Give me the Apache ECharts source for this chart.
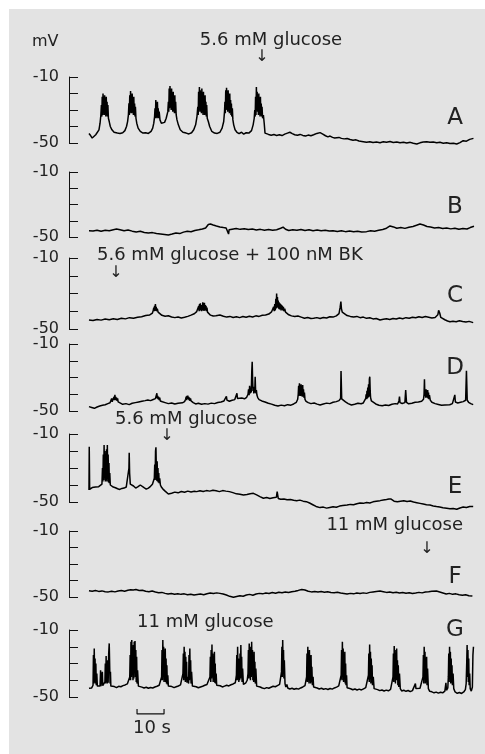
<!DOCTYPE html>
<html>
<head>
<meta charset="utf-8">
<script src="https://cdn.jsdelivr.net/npm/echarts@6/dist/echarts.min.js"></script>
<style>
html, body { margin: 0; padding: 0; background: #e3e3e3; }
#main { width: 485px; height: 754px; }
</style>
</head>
<body>
<div id="main"></div>
<script>
var chart = echarts.init(document.getElementById('main'));

// time in s, membrane potential in mV
var traceA = [[0,-44.2],[0.6,-45.5],[1.2,-47],[1.8,-46],[2.5,-45],[3.2,-44],[3.7,-42],
  [4.1,-38],[4.4,-33],[4.6,-27],[4.75,-34],[4.9,-22],[5.05,-33],[5.2,-20],[5.35,-32],[5.5,-23],[5.65,-33],[5.8,-21],[5.95,-32],[6.1,-24],[6.25,-34],[6.4,-22],[6.55,-33],[6.7,-25],[6.85,-34],[7.0,-27],[7.2,-35],[7.5,-37],[7.9,-40],[8.5,-42],[9.3,-43.5],[10.5,-44],[11.5,-44.2],[12.5,-43.8],[13.3,-42.5],[13.9,-40],
  [14.3,-37],[14.6,-33],[14.8,-26],[14.95,-33],[15.1,-21],[15.25,-32],[15.4,-18.5],[15.55,-31],[15.7,-23],[15.85,-32],[16.0,-20],[16.15,-31],[16.3,-24],[16.45,-33],[16.6,-22],[16.75,-33],[16.9,-26],[17.05,-34],[17.2,-28],[17.4,-35],[17.7,-38],[18.2,-41],[19,-43],[20,-44],[21,-43.8],[22,-44.2],[23,-43],[23.6,-41],
  [24.0,-38],[24.3,-34],[24.45,-29],[24.6,-35],[24.75,-24],[24.9,-34],[25.05,-27],[25.2,-35],[25.35,-25],[25.5,-34],[25.65,-29],[25.8,-35],[26.0,-31],[26.3,-36],[26.8,-38],[27.4,-38.5],[28.0,-37.5],[28.6,-35],
  [29.2,-31],[29.4,-25],[29.55,-31],[29.7,-17],[29.85,-29],[30.0,-15.5],[30.15,-28],[30.3,-19],[30.45,-30],[30.6,-17],[30.75,-29],[30.9,-21],[31.05,-31],[31.2,-19],[31.35,-30],[31.5,-23],[31.65,-32],[31.8,-21],[31.95,-32],[32.1,-25],[32.3,-33],[32.6,-36],[33.1,-39],[33.8,-42],[34.8,-43.5],[36,-44],[37,-44.5],[38,-43.8],[38.8,-42],[39.5,-39],
  [40.0,-34],[40.3,-28],[40.45,-33],[40.6,-19],[40.75,-31],[40.9,-16],[41.05,-30],[41.2,-18],[41.35,-31],[41.5,-21],[41.65,-32],[41.8,-17],[41.95,-30],[42.1,-22],[42.25,-33],[42.4,-19],[42.55,-31],[42.7,-23],[42.85,-33],[43.0,-21],[43.15,-32],[43.3,-25],[43.45,-34],[43.6,-27],[43.8,-35],[44.2,-37],[44.7,-40],[45.5,-43],[46.5,-44],[47.5,-44.2],[48.5,-43.5],[49.3,-41],[49.9,-37],
  [50.2,-31],[50.35,-25],[50.5,-32],[50.65,-18],[50.8,-30],[50.95,-16.5],[51.1,-29],[51.25,-20],[51.4,-31],[51.55,-18],[51.7,-30],[51.85,-22],[52.0,-32],[52.15,-20],[52.3,-31],[52.45,-24],[52.6,-33],[52.75,-26],[52.9,-34],[53.1,-29],[53.3,-36],[53.6,-39],[54.1,-42],[54.8,-43.5],[55.6,-44.3],[56.5,-43.5],[57.3,-44.6],[58.2,-43.8],[59.2,-44],[60.2,-42.5],[60.8,-39],
  [61.2,-35],[61.4,-30],[61.55,-34],[61.7,-22],[61.85,-33],[62.0,-16],[62.15,-30],[62.3,-19],[62.45,-31],[62.6,-23],[62.75,-33],[62.9,-20],[63.05,-32],[63.2,-25],[63.35,-34],[63.5,-22],[63.65,-33],[63.8,-26],[63.95,-34],[64.1,-28],[64.3,-35],[64.6,-33],[64.9,-38],[65.2,-44],[65.6,-45.2],
  [66.5,-44.8],[67.5,-45.3],[68.5,-44.9],[69.5,-45.4],[70.5,-45],[71.5,-45.5],[72.5,-44.6],[73.5,-44],[74.4,-43.5],[75.3,-44.3],[76.2,-45],[77.2,-45.3],[78.2,-44.8],[79.2,-45.4],[80.2,-45.8],[81.2,-45.2],[82.2,-45.6],[83.2,-45],[84.4,-44.2],[85.6,-43.7],[86.6,-44.6],[87.6,-45.6],[88.5,-46.3],[89.3,-45.8],[90.2,-46.6],[91.0,-47],[91.7,-47.3],[92.6,-46.6],[93.5,-47.2],[94.5,-47.5],[95.6,-47.3],[96.7,-47.9],[97.8,-48.3],[98.9,-48.1],[100,-48.8],[101.6,-49.2],[102.8,-49.5],[104,-49.2],[105.2,-49.7],[106.5,-49.4],[107.8,-49.8],[109,-49.3],[110.2,-49.6],[111.5,-49.1],[112.7,-49.7],[114,-49.4],[115.2,-49.9],[116.5,-49.5],[117.7,-50],[119,-49.6],[120.1,-50.2],[121.4,-50.6],[122.6,-49.9],[123.8,-49.4],[125.1,-49.2],[126.3,-49.6],[127.5,-49.4],[128.8,-49.9],[130,-49.6],[131.2,-50.1],[132.5,-49.8],[133.7,-50.3],[135,-50.1],[136.2,-50.6],[137.4,-49.8],[138.6,-48.6],[139.8,-48.9],[141,-47.8],[142.4,-47.2]];

var traceB = [[0,-46.1],[1.5,-46.3],[3,-45.8],[4.5,-46.4],[6,-45.9],[7.5,-46.2],[9,-45.5],[10.2,-45.1],[11.5,-45.6],[13,-46.2],[14.5,-45.7],[16,-46.4],[17.5,-46.9],[19,-46.5],[20.5,-47.2],[22,-47.6],[23.5,-47.3],[25,-47.9],[26.5,-48.1],[28,-48.4],[29.4,-48.8],[30.8,-48.2],[32.2,-47.5],[33.6,-47.9],[35,-47],[36.4,-46.5],[37.8,-46.8],[39.2,-46],[40.6,-45.6],[42,-45.1],[43.2,-44.5],[44.2,-42.3],[45,-42],[46,-42.6],[47.2,-43.2],[48.5,-43.8],[49.8,-44.2],[50.8,-44.5],[51.5,-45],[51.7,-48.2],[51.9,-45.5],[53,-45.2],[54.5,-44.8],[56,-45.3],[57.5,-44.9],[59,-45.4],[60.5,-45.1],[62,-45.7],[63.5,-45.3],[65,-45.8],[66.5,-45.4],[68,-45.9],[69.5,-45.5],[71,-44.6],[71.9,-43.9],[72.8,-45.2],[74,-46],[75.5,-45.5],[77,-45.9],[78.5,-45.4],[80,-46],[81.5,-45.6],[83,-46.1],[84.5,-45.7],[86,-46.2],[87.5,-45.8],[89,-46.3],[90.4,-46.1],[92,-46.6],[93.5,-46.2],[95,-46.7],[96.5,-46.3],[98,-46.8],[99.5,-46.4],[101,-46.9],[102.8,-46.7],[104.3,-46.2],[105.8,-46.5],[107.3,-45.8],[108.8,-45.4],[110.2,-44.6],[111.5,-43.2],[112.8,-43.8],[114,-44.6],[115.5,-44.2],[117,-44.7],[118.5,-44],[120,-43.5],[121.3,-42.8],[122.6,-42],[123.9,-42.6],[125.2,-43.5],[126.5,-43.8],[128,-44.4],[129.5,-44.2],[131,-44.8],[132.5,-44.4],[134,-45],[135.5,-44.6],[137,-45.2],[138.5,-44.8],[140,-45.1],[141.2,-44.2],[142.6,-43.4]];

var traceC = [[0,-44.9],[1.5,-45.2],[3,-44.6],[4.5,-45],[6,-44.4],[7.5,-44.8],[9,-44.2],[10.5,-44.6],[12,-43.9],[13.5,-44.3],[15,-43.6],[16.5,-44],[18,-43.4],[19.5,-43.1],[21,-42.4],[22.5,-42.1],[23.5,-41],
  [23.8,-39.5],[24.0,-38],[24.15,-40],[24.3,-37],[24.45,-39.8],[24.6,-36],[24.75,-39],[24.9,-37.5],[25.05,-40],[25.3,-38.5],[25.6,-40.5],[26,-41.5],[27,-42.3],[28.2,-42.8],[29.4,-42.5],[30.6,-43.2],[31.8,-43.6],[33,-43.2],[34.2,-43.8],[35.4,-43.4],[36.6,-42.9],[37.8,-42.2],[39,-41.4],[39.9,-40.2],
  [40.5,-39.5],[40.65,-37],[40.8,-40],[40.95,-36],[41.1,-39.5],[41.25,-35.5],[41.4,-39],[41.55,-36.5],[41.7,-40],[41.85,-37],[42.0,-39.5],[42.15,-35],[42.3,-39],[42.45,-36],[42.6,-39.8],[42.75,-35.2],[42.9,-38.5],[43.05,-36.5],[43.2,-39.5],[43.35,-37],[43.5,-40],[43.7,-38],[43.9,-40.5],[44.3,-41.5],[45,-42.2],[46,-42.7],[47,-42.5],[48.5,-42.1],[49.8,-42.8],[51,-43.3],[52.2,-42.9],[53.4,-43.5],[54.6,-43.1],[55.8,-43.6],[57,-43],[58.2,-43.4],[59.4,-42.8],[60.6,-43.2],[61.8,-42.6],[63,-42.9],[64.2,-42.3],[65.4,-42.1],[66.6,-41.6],[67.6,-40.4],
  [68.2,-39.5],[68.4,-37.5],[68.6,-40],[68.8,-36],[69.0,-39.5],[69.2,-33],[69.35,-38.5],[69.5,-30],[69.65,-37],[69.8,-32],[69.95,-38],[70.1,-34],[70.25,-38.5],[70.4,-35],[70.55,-39],[70.7,-35.5],[70.85,-38.5],[71.0,-36],[71.15,-39.5],[71.3,-36.5],[71.45,-39],[71.6,-37],[71.8,-39.5],[72.0,-37.5],[72.2,-40],[72.5,-38.5],[72.8,-40.5],[73.3,-41],[74,-42],[75,-42.6],[76.2,-43],[77.4,-42.7],[78.6,-43.3],[79.8,-43.9],[81,-43.5],[82.2,-44.1],[83.2,-44],[84.4,-43.6],[85.6,-44.1],[86.8,-43.5],[88,-43.8],[89.2,-43.1],[90.4,-43.3],[91.6,-42.6],[92.6,-41.3],[93.0,-38],[93.3,-34.6],[93.5,-38.5],[93.8,-40.5],[94.4,-41.6],[95.6,-42.4],[96.8,-42.9],[98,-43.2],[99.2,-42.9],[100.4,-43.6],[101.6,-43.3],[102.8,-44],[104,-43.7],[105.2,-44.3],[106.4,-44.1],[107.8,-44.9],[109,-44.5],[110.2,-44.2],[111.4,-44.6],[112.6,-44.1],[113.8,-44.4],[115,-43.8],[116.2,-44.2],[117.4,-43.6],[118.6,-43.9],[119.8,-43.4],[121,-43.7],[122.2,-43.1],[123.4,-43.5],[124.6,-43],[125.8,-43.4],[127,-43.8],[128.2,-43.5],[129.2,-42],[129.5,-39.5],[129.7,-38.9],[129.9,-41],[130.3,-43.5],[130.9,-44.2],[131.8,-44.8],[132.8,-45.5],[133.7,-45.9],[134.8,-45.6],[136,-45.9],[137.2,-45.4],[138.4,-45.8],[139.6,-46.1],[140.8,-45.7],[142.3,-46.4]];

var traceD = [[0,-47.4],[1,-47.9],[2,-48.4],[3,-47.6],[4,-47],[5,-46.6],[6,-46.3],[7,-45.6],[7.8,-45.1],
  [8.2,-44],[8.4,-42.5],[8.6,-44.5],[8.9,-43],[9.1,-44],[9.3,-41.5],[9.45,-43.5],[9.6,-40.4],[9.75,-43],[9.9,-41.5],[10.05,-43.5],[10.2,-42],[10.4,-44],[10.6,-42.5],[10.8,-44.5],[11.1,-43.5],[11.5,-45.2],[12.5,-46],[13.7,-45.6],[14.9,-46.2],[16,-45.4],[17.2,-45],[18.4,-44.6],[19.6,-44.2],[20.8,-43.8],[21.8,-43.4],[22.8,-43.8],[23.8,-43.1],[24.6,-42.6],
  [25.0,-41.5],[25.15,-39.4],[25.3,-42.5],[25.45,-41],[25.6,-43],[25.8,-41.5],[26,-43.5],[26.2,-42],[26.4,-44],[26.7,-43],[27.2,-44.5],[28.2,-45],[29.4,-45.6],[30.6,-45.2],[31.8,-45.8],[33,-45.4],[33.7,-45.7],[34.6,-45.1],[35.4,-44.4],
  [35.8,-43],[36.0,-41.5],[36.15,-43.5],[36.3,-41],[36.45,-43],[36.6,-40.8],[36.75,-43],[36.9,-41.5],[37.05,-43.5],[37.2,-42],[37.4,-44],[37.6,-42.5],[37.8,-44],[38.1,-43.5],[38.6,-45],[39.5,-45.8],[40.5,-45.4],[41.7,-46],[42.9,-45.6],[44.1,-45.9],[45.3,-45.3],[46.5,-45.6],[47.7,-44.9],[48.9,-44.6],[50,-44],[50.6,-43.2],[50.9,-41.2],[51.1,-43.5],[52,-44.2],[53,-43.6],[54,-43.2],[54.6,-42.4],[54.8,-39.4],[55.0,-42.5],[55.6,-42.8],[56.6,-42.3],[57.6,-42.7],[58.4,-41.8],
  [58.9,-40],[59.1,-37],[59.3,-40.5],[59.5,-35],[59.7,-39.5],[59.9,-36],[60.1,-39],[60.3,-26],[60.45,-20.6],[60.6,-31],[60.75,-38],[60.9,-35.5],[61.05,-39.5],[61.2,-36],[61.4,-39],[61.55,-29.5],[61.7,-37],[61.85,-39.5],[62.0,-37.5],[62.2,-40.5],[62.5,-42],[63,-43.2],[64,-44],[65.2,-44.6],[66.4,-45.4],[67.6,-45.9],[68.8,-46.6],[70,-47],[71.2,-46.5],[72.4,-46.9],[73.6,-46.2],[74.8,-46.5],[75.8,-45.8],[76.8,-44.8],[77.3,-43],
  [77.5,-40],[77.65,-35],[77.8,-41],[77.95,-33.5],[78.1,-40],[78.25,-35],[78.4,-41],[78.55,-34],[78.7,-40.5],[78.85,-36],[79.0,-41.5],[79.15,-34.5],[79.3,-41],[79.45,-37],[79.6,-42],[79.8,-39],[80.0,-43],[80.4,-44.2],[81.2,-45],[82.2,-45.6],[83.4,-45.2],[84.5,-45.9],[85.6,-46.4],[86.8,-45.8],[88,-45.3],[89.2,-45.6],[90.4,-44.8],[91.6,-44.4],[92.6,-43.8],[93.2,-42.5],[93.35,-26.1],[93.5,-26.5],[93.6,-42.8],[94,-43.8],[95,-44.6],[96,-45.6],[97.2,-46.4],[98.4,-46],[99.6,-45.4],[100.8,-45.7],[101.6,-45.2],[102.2,-44.5],
  [102.5,-42.5],[102.65,-40],[102.8,-43],[102.95,-38],[103.1,-42.5],[103.25,-36],[103.4,-42],[103.55,-34],[103.7,-41.5],[103.85,-31],[104.0,-29.5],[104.15,-38],[104.3,-42],[104.6,-44],[105.2,-45],[106.2,-45.8],[107.4,-46.6],[108.6,-46.9],[109.8,-46.4],[111,-46.7],[112.2,-46],[113.4,-45.6],[114.3,-45.8],[114.8,-44],[115,-41.4],[115.2,-45],[116,-45.5],[117,-45],[117.3,-37.5],[117.5,-37.8],[117.6,-44.8],[118.4,-45.7],[119.6,-45.4],[120.8,-44.8],[122,-44.6],[123.2,-44.2],[123.9,-43],
  [124.1,-40],[124.25,-31.1],[124.4,-41],[124.55,-38],[124.7,-42],[124.85,-37],[125.0,-41.5],[125.15,-38.5],[125.3,-42],[125.45,-37.5],[125.6,-42.5],[125.75,-39],[125.9,-43],[126.1,-40.5],[126.4,-43.5],[127,-44.8],[128.2,-45.6],[129.4,-46.1],[130.6,-46.6],[131.8,-46.4],[132.5,-46.9],[133.6,-46.3],[134.6,-45.6],[135.3,-45.4],[135.5,-40.4],[135.7,-44.6],[136.6,-45.2],[137.6,-44.8],[138.6,-44.4],[139.5,-43.6],[139.8,-26],[140.0,-26.4],[140.1,-43.6],[140.6,-44.8],[141.4,-45.6],[142.3,-46.2]];

var traceE = [[0,-42.9],[0.1,-17.5],[0.25,-42.5],[0.6,-42],[1.2,-41.5],[1.8,-40.5],[2.4,-41.2],[3,-40.6],[3.6,-41],[4.2,-40.2],[4.8,-39.5],
  [5.0,-30],[5.15,-38],[5.3,-22],[5.45,-37],[5.6,-16.5],[5.75,-36],[5.9,-20],[6.05,-38],[6.2,-24],[6.35,-37],[6.5,-19],[6.65,-38],[6.8,-16.5],[6.95,-36],[7.1,-22],[7.25,-38.5],[7.4,-27],[7.55,-39],[7.7,-33],[7.9,-40],[8.3,-40.5],[9,-41.2],[9.8,-41.6],[10.6,-42.2],[11.4,-42.6],[12.2,-42],[13,-41.8],[13.8,-41.2],[14.5,-40.4],[14.8,-30],[14.9,-21],[15.05,-33],[15.3,-39.5],[15.8,-39],[16.5,-40.6],[17.3,-41.8],[18.2,-41],[19,-40],[19.6,-40.4],[20.4,-41.6],[21.2,-42.4],[22,-41.8],[22.8,-40.8],[23.5,-39.6],[24,-39],
  [24.2,-36],[24.35,-28],[24.5,-37],[24.65,-20],[24.8,-17.8],[24.95,-30],[25.1,-37.5],[25.25,-26],[25.4,-38],[25.55,-30],[25.7,-38.5],[25.85,-33],[26.0,-39],[26.2,-36],[26.45,-40],[26.8,-41.2],[27.4,-42.4],[28.2,-43.6],[29.4,-45.3],[30.6,-44.8],[31.8,-44.2],[33,-44.6],[34.2,-43.8],[35.4,-44.3],[36.6,-43.6],[37.8,-44.1],[39,-43.7],[39.9,-43.9],[41.1,-43.4],[42.3,-43.8],[43.5,-43.3],[44.7,-43.6],[45.9,-43.1],[47.1,-43.4],[48.3,-43.9],[49.5,-43.3],[50.7,-43.6],[52,-43.9],[53.3,-44.5],[54.6,-45.2],[55.9,-45.5],[57.2,-45.9],[58.5,-45.6],[59.7,-45.2],[60.9,-44.9],[62.1,-45.8],[63.3,-46.8],[64.6,-47.8],[65.8,-47.4],[67,-47.9],[68.2,-47.5],[69.4,-47.2],[69.7,-43.9],[69.9,-44.5],[70.1,-47.9],[71,-48.4],[72.2,-48.2],[73.4,-48.7],[74.6,-48.5],[75.8,-49],[76.9,-49.2],[78.1,-48.9],[79.3,-49.5],[80.5,-49.8],[81.7,-50.6],[82.9,-51.6],[84.1,-52.6],[85.6,-53.3],[86.8,-53],[88,-53.6],[89.2,-53.2],[90.4,-52.8],[91.6,-53.1],[92.8,-52.4],[94,-52.1],[95.6,-51.8],[96.8,-51.4],[98,-51.6],[99.2,-51],[100.4,-50.6],[101.6,-50.8],[102.8,-50.3],[104,-50.6],[105.2,-49.9],[106.4,-49.5],[107.8,-49.2],[109,-48.8],[110.2,-48.5],[111.1,-48.2],[111.5,-47.2],[111.9,-48.3],[113,-49.5],[114.2,-49.9],[115.4,-49.6],[116.6,-49.3],[117.8,-49.7],[119,-49.4],[120.2,-50],[121.4,-50.4],[122.6,-50.8],[123.8,-51.2],[125,-51.6],[126.3,-51.8],[127.5,-52.3],[128.7,-52.7],[129.9,-53],[131.1,-53.4],[132.5,-53.7],[133.7,-54],[134.9,-53.8],[136.2,-54.3],[137.4,-53.5],[138.6,-52.9],[139.8,-53.2],[141,-52.6],[142.3,-52.7]];

var traceF = [[0,-46.2],[1.2,-46.5],[2.4,-46.1],[3.6,-46.6],[4.8,-46.3],[6,-46.8],[7.2,-46.9],[8.4,-46.5],[9.6,-46.9],[10.8,-46.4],[12,-46.1],[13.2,-46.5],[14.4,-45.9],[15.4,-45.6],[16.4,-45.8],[17.4,-45.5],[18.6,-46.1],[19.8,-45.9],[21,-46.5],[22.2,-46.8],[23.4,-46.4],[24.6,-47],[25.8,-47.4],[27,-47.2],[28.2,-47.8],[29.3,-48.2],[30.5,-47.9],[31.7,-48.3],[32.9,-48],[34.1,-48.4],[35.3,-48.1],[36.5,-48.6],[37.7,-48.3],[38.9,-48.8],[40.1,-48.5],[41.3,-48.2],[42.5,-48.6],[43.7,-48],[44.9,-47.6],[46.1,-47.9],[47.3,-47.5],[48.5,-47.8],[49.7,-48.2],[50.9,-48.8],[52.1,-49.6],[53.5,-50.2],[54.7,-49.7],[55.9,-49.2],[57.1,-49.5],[58.3,-48.8],[59.5,-48.4],[60.7,-48.9],[61.9,-48.2],[63.1,-47.8],[64.3,-48.1],[65.5,-47.6],[66.7,-47.9],[67.9,-47.3],[69.1,-47.7],[70.3,-47.1],[71.5,-47.4],[72.7,-47],[73.9,-47.3],[75.1,-46.8],[76.3,-46.5],[77.5,-46],[78.8,-45.4],[80,-45.8],[81.2,-46.5],[82.4,-46.9],[83.6,-46.6],[84.8,-46.9],[86,-46.7],[87.2,-47.1],[88.4,-46.8],[89.6,-47.3],[90.8,-47.4],[92,-47.1],[93.2,-47.6],[94.4,-47.9],[95.6,-48.2],[96.8,-47.8],[98,-48.1],[99.2,-47.6],[100.4,-47.9],[101.6,-47.5],[102.8,-47.8],[104,-47.2],[105.2,-46.9],[106.4,-46.6],[107.8,-46.4],[109,-46.8],[110.2,-47.2],[111.4,-47],[112.6,-47.4],[113.8,-47.1],[115,-47.6],[116.2,-47.3],[117.4,-47.7],[118.6,-47.4],[119.8,-47.9],[121,-47.6],[122.2,-47.2],[123.4,-47.5],[124.6,-47],[125.8,-46.8],[127,-46.5],[128.7,-46.4],[129.9,-47],[131.1,-47.6],[132.3,-48.2],[133.5,-47.8],[134.7,-48.4],[135.9,-48.1],[137.1,-48.6],[138.3,-48.9],[139.5,-48.6],[140.7,-49.2],[142,-49.4]];

var traceG = [[0,-44.8],[0.5,-44.2],[1,-44.6],[1.3,-43.8],
  [1.5,-43],[1.65,-25],[1.8,-42],[1.95,-21],[2.1,-41],[2.25,-27],[2.4,-42],[2.55,-30],[2.7,-43],[2.9,-36],[3.1,-43.5],[3.5,-44],[4.1,-43.5],[4.3,-34],[4.45,-43.5],[4.8,-43],[4.95,-35],[5.1,-43.2],[5.6,-42.8],
  [5.9,-41],[6.05,-30],[6.2,-42],[6.35,-25.6],[6.5,-41],[6.65,-32],[6.8,-42],[6.95,-28],[7.1,-41.5],[7.3,-24],[7.5,-18],[7.65,-30],[7.8,-42],[7.95,-35],[8.1,-43.5],[8.6,-44.2],[9.4,-43.8],[10.2,-44.4],[11,-43.6],[11.8,-43.9],[12.6,-43.2],[13.4,-42.8],[14.2,-42.2],[14.8,-41.6],
  [15.1,-38],[15.25,-25],[15.4,-40],[15.55,-17],[15.7,-38],[15.85,-16],[16.0,-36],[16.15,-22],[16.3,-40],[16.45,-19],[16.6,-39],[16.75,-17],[16.9,-35],[17.05,-16.5],[17.2,-38],[17.35,-22],[17.5,-41],[17.65,-26],[17.8,-42],[18.0,-34],[18.3,-43.5],[18.8,-44.5],[19.6,-44.1],[20.4,-44.6],[21.2,-44.2],[22,-44.8],[22.8,-44.3],[23.6,-44.6],[24.4,-44],[25.2,-43.6],[26,-43],[26.6,-42.2],
  [26.9,-38],[27.05,-22],[27.2,-40],[27.35,-16],[27.5,-37],[27.65,-20],[27.8,-41],[27.95,-24],[28.1,-40],[28.25,-21],[28.4,-41],[28.55,-27],[28.7,-42],[28.85,-31],[29.0,-42.5],[29.2,-37],[29.4,-43.5],[29.9,-44.2],[30.7,-43.8],[31.5,-44.4],[32.3,-43.9],[33.1,-43.4],[33.9,-42.8],[34.5,-42],
  [34.8,-36],[34.95,-24],[35.1,-40],[35.25,-20],[35.4,-38],[35.55,-23],[35.7,-41],[35.85,-26],[36.0,-40],[36.15,-29],[36.3,-41.5],[36.6,-38],[36.9,-42],[37.05,-25],[37.2,-40],[37.35,-21],[37.5,-39],[37.65,-28],[37.8,-42],[38.0,-35],[38.3,-43.5],[38.9,-44.3],[39.7,-43.9],[40.5,-44.5],[41.3,-44],[42.1,-43.6],[42.9,-43],[43.7,-42.5],[44.4,-41.8],
  [44.8,-38],[44.95,-26],[45.1,-41],[45.25,-22],[45.4,-39],[45.55,-18.6],[45.7,-37],[45.85,-24],[46.0,-41],[46.15,-27],[46.3,-40],[46.45,-23],[46.6,-41.5],[46.75,-30],[46.9,-42],[47.1,-36],[47.3,-43],[47.8,-43.8],[48.6,-43.3],[49.4,-44],[50.2,-43.5],[51,-43],[51.8,-43.4],[52.6,-42.7],[53.4,-42.2],[54.2,-41.5],
  [54.6,-37],[54.75,-25],[54.9,-40],[55.05,-20],[55.2,-38],[55.35,-27],[55.5,-41],[55.65,-30],[55.8,-40],[55.95,-24],[56.1,-39],[56.25,-19],[56.4,-37],[56.55,-26],[56.7,-41],[56.9,-33],[57.2,-42.5],[57.6,-42],[58.1,-41.5],[58.6,-40],
  [58.9,-36],[59.05,-22],[59.2,-39],[59.35,-18],[59.5,-37],[59.65,-24],[59.8,-40],[59.95,-20],[60.1,-38],[60.25,-17],[60.4,-36],[60.55,-22],[60.7,-40],[60.85,-26],[61.0,-41],[61.15,-23],[61.3,-40],[61.45,-29],[61.6,-42],[61.8,-33],[62.1,-43.5],[62.6,-44.5],[63.4,-44],[64.2,-44.6],[65,-45],[65.8,-44.4],[66.6,-44.8],[67.4,-44.2],[68.2,-43.6],[69,-43.9],[69.8,-43.2],[70.6,-42.5],[71.1,-41.5],
  [71.3,-35],[71.45,-20],[71.6,-38],[71.75,-16],[71.9,-33],[72.05,-22],[72.2,-39],[72.35,-28],[72.6,-42],[72.9,-44],[73.3,-42.5],[73.6,-44.6],[74.4,-45.2],[75.2,-44.8],[76,-45.4],[76.8,-44.9],[77.6,-45.3],[78.4,-44.6],[79.2,-44],[80,-43.2],[80.5,-42.5],
  [80.6,-38],[80.75,-24],[80.9,-41],[81.05,-20],[81.2,-38],[81.35,-26],[81.5,-42],[81.65,-22],[81.8,-40],[81.95,-29],[82.1,-42],[82.25,-25],[82.4,-41],[82.55,-32],[82.75,-43],[83.0,-38],[83.2,-44],[83.7,-45],[84.5,-44.6],[85.3,-45.2],[86.1,-44.8],[86.9,-45.4],[87.7,-45],[88.5,-45.5],[89.3,-44.9],[90.1,-45.3],[90.9,-44.6],[91.7,-44.1],[92.5,-43.4],[93.2,-42.6],
  [93.4,-37],[93.55,-22],[93.7,-40],[93.85,-17],[94.0,-36],[94.15,-21],[94.3,-41],[94.45,-25],[94.6,-39],[94.75,-23],[94.9,-42],[95.05,-30],[95.2,-43],[95.4,-37],[95.6,-44.5],[96.1,-45.5],[96.9,-45.1],[97.7,-45.7],[98.5,-45.2],[99.3,-45.8],[100.1,-45.3],[100.9,-45.8],[101.7,-45.1],[102.5,-44.4],[103.2,-43.5],
  [103.5,-37],[103.65,-24],[103.8,-41],[103.95,-18.6],[104.1,-38],[104.25,-23],[104.4,-42],[104.55,-27],[104.7,-40],[104.85,-31],[105.0,-43],[105.3,-38],[105.6,-45],[106.1,-46],[106.9,-45.6],[107.7,-46.2],[108.5,-45.8],[109.3,-46.4],[110.1,-45.9],[110.9,-46.3],[111.7,-45.5],[112.3,-44.5],
  [112.6,-38],[112.75,-24],[112.9,-41],[113.05,-19.5],[113.2,-37],[113.35,-22],[113.5,-42],[113.65,-26],[113.8,-40],[113.95,-21],[114.1,-39],[114.25,-28],[114.4,-43],[114.55,-31],[114.75,-44],[115.0,-36],[115.3,-45],[115.8,-46.4],[116.6,-46],[117.4,-46.6],[118.2,-46.1],[119,-46.8],[119.8,-46.2],[120.4,-45.4],[120.9,-42],[121.1,-45],[121.8,-45.6],[122.6,-44.8],[123.3,-43.8],
  [123.7,-38],[123.85,-25],[124.0,-42],[124.15,-20],[124.3,-38],[124.45,-23],[124.6,-42],[124.75,-28],[124.9,-41],[125.05,-26],[125.2,-43],[125.4,-33],[125.7,-45],[126.2,-46.6],[127,-46.9],[127.8,-47.5],[128.6,-47.1],[129.4,-47.7],[130.2,-47.2],[131,-47.5],[131.8,-46.5],[132.2,-41.5],[132.4,-46],[132.9,-44.5],
  [133.1,-38],[133.25,-24],[133.4,-41],[133.55,-20],[133.7,-37],[133.85,-23],[134.0,-42],[134.15,-27],[134.3,-40],[134.45,-31],[134.6,-43],[134.85,-36],[135.1,-45],[135.6,-47],[136.4,-47.8],[137.2,-47.3],[138,-47.9],[138.8,-47],[139.4,-45.6],[139.7,-42],
  [139.9,-30],[140.05,-19],[140.2,-38],[140.35,-22],[140.5,-41],[140.65,-27],[140.8,-43],[141.0,-36],[141.2,-45],[141.6,-46.5],[142.0,-44],[142.2,-25],[142.4,-20]];

var traces = [traceA, traceB, traceC, traceD, traceE, traceF, traceG];
var traceNames = ['A', 'B', 'C', 'D', 'E', 'F', 'G'];
var yTicks = [-50, -40, -30, -20, -10];
var yLabels = [-10, -50];
var scaleBar = [[17.8, -57.2], [17.8, -60.1], [27.8, -60.1], [27.8, -57.2]];

// panel layout in px
var panelTop = [77, 172, 258, 344, 434, 531, 630];
var panelHeight = [66, 65, 71, 67, 68, 66, 67];
var letterY = [118, 207, 296, 368, 487, 577, 630];

var font = '"DejaVu Sans", sans-serif';
var ink = '#000';

var grids = [], xAxes = [], yAxes = [], series = [];
traces.forEach(function (tr, i) {
    grids.push({ left: 69, width: 405, top: panelTop[i], height: panelHeight[i] });
    xAxes.push({ type: 'value', gridIndex: i, min: -7.4, max: 142.6, show: false });
    yAxes.push({
        type: 'value', gridIndex: i,
        min: yTicks[0], max: yTicks[yTicks.length - 1], interval: 10,
        axisLine: { show: true, onZero: false, lineStyle: { color: '#111', width: 1 } },
        axisTick: { show: true, inside: true, length: 9, lineStyle: { color: '#111', width: 1 } },
        axisLabel: {
            margin: 10, fontSize: 16, fontFamily: font, color: '#222',
            formatter: function (v) { return yLabels.indexOf(v) >= 0 ? String(v) : ''; }
        },
        splitLine: { show: false }
    });
    series.push({
        type: 'line', xAxisIndex: i, yAxisIndex: i, data: tr,
        showSymbol: false, symbol: 'none', clip: false, silent: true,
        lineStyle: { color: ink, width: 1.5 }
    });
});

// 10 s scale bar under trace G
series.push({
    type: 'line', xAxisIndex: 6, yAxisIndex: 6, data: scaleBar,
    showSymbol: false, symbol: 'none', clip: false, silent: true,
    lineStyle: { color: '#111', width: 1.2 }
});

function txt(s, x, y, size, align) {
    return {
        type: 'text', x: x, y: y, silent: true,
        style: {
            text: s, font: size + 'px ' + font, fill: '#222',
            align: align || 'left', textAlign: align || 'left',
            verticalAlign: 'middle', textVerticalAlign: 'middle'
        }
    };
}

var graphics = [
    // white page margin above and left of the grey panel
    { type: 'rect', z: -10, silent: true, shape: { x: 0, y: 0, width: 485, height: 9 }, style: { fill: '#fff' } },
    { type: 'rect', z: -10, silent: true, shape: { x: 0, y: 0, width: 9, height: 754 }, style: { fill: '#fff' } },
    txt('mV', 32, 42, 16),
    txt('5.6 mM glucose', 271, 40, 18, 'center'),
    txt('\u2193', 262, 57, 16, 'center'),
    txt('5.6 mM glucose + 100 nM BK', 97, 255, 18),
    txt('\u2193', 116, 273, 16, 'center'),
    txt('5.6 mM glucose', 115, 419, 18),
    txt('\u2193', 167, 436, 16, 'center'),
    txt('11 mM glucose', 463, 525, 18, 'right'),
    txt('\u2193', 427, 549, 16, 'center'),
    txt('11 mM glucose', 137, 622, 18),
    txt('10 s', 152, 728, 18, 'center')
];
traceNames.forEach(function (n, i) {
    graphics.push(txt(n, 455, letterY[i], 23, 'center'));
});

var option = {
    animation: false,
    backgroundColor: '#e3e3e3',
    grid: grids,
    xAxis: xAxes,
    yAxis: yAxes,
    series: series,
    graphic: { elements: graphics }
};

chart.setOption(option);

window.onresize = chart.resize;
</script>
</body>
</html>
